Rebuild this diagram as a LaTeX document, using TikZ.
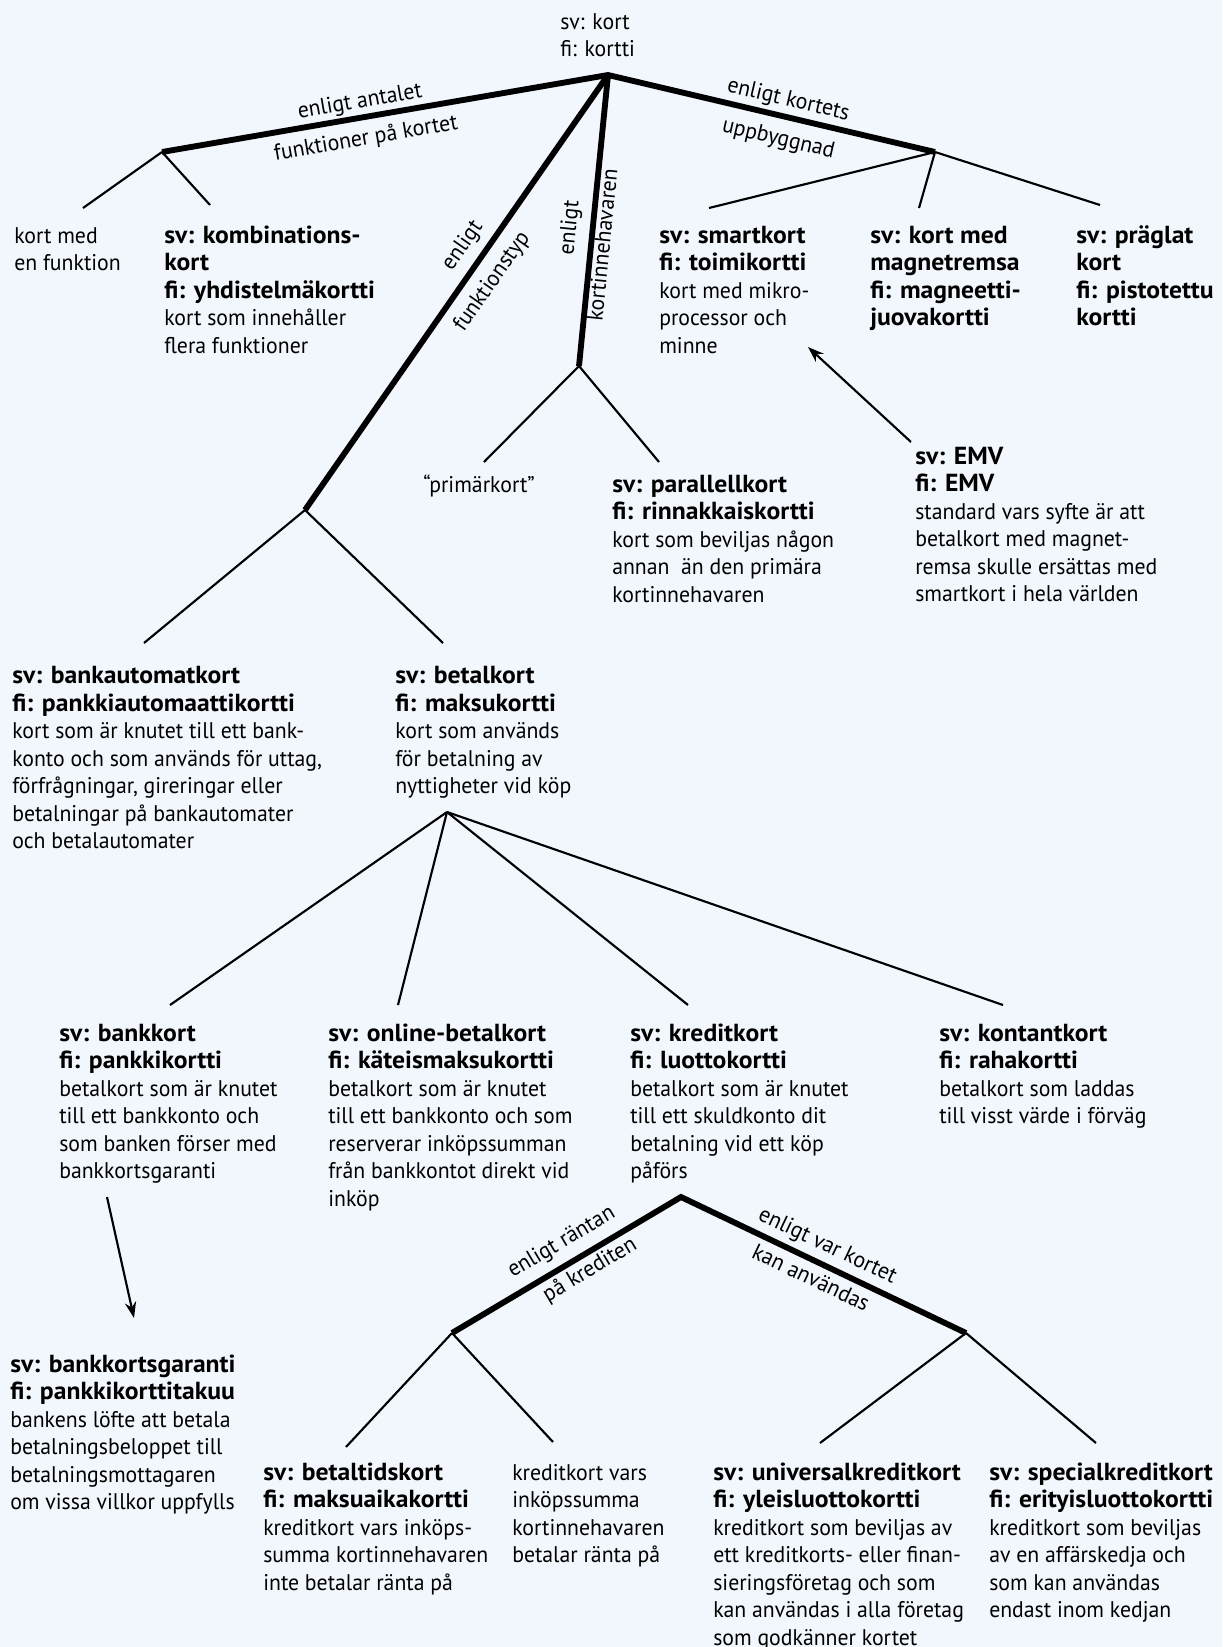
\documentclass[tikz,border=0pt]{standalone}
\usepackage{fontspec}
\setmainfont{PT Sans}[FakeStretch=0.96,BoldFeatures={FakeStretch=1.04}]
\usetikzlibrary{arrows.meta}
\definecolor{bg}{RGB}{242,247,254}
\tikzset{
  term/.style={anchor=north west, align=left, inner sep=0pt, yshift=14.42pt},
  lbl/.style={anchor=base, inner sep=0pt},
  thickline/.style={line width=4.4pt, line cap=butt, line join=miter},
  thinline/.style={line width=1.6pt},
  arr/.style={line width=1.6pt, -{Stealth[length=12pt,width=8.5pt]}},
}
\newcommand\tb[1]{{\fontsize{18.5}{20.6}\selectfont\bfseries #1}}
\begin{document}
\begin{tikzpicture}[x=0.75pt,y=-0.75pt,font=\fontsize{17}{20.6}\selectfont]
\useasboundingbox (0,0) rectangle (1222,1647);
\fill[bg] (0,0) rectangle (1222,1647);

% branch points
\coordinate (R) at (608,75);
\coordinate (A) at (162,152);
\coordinate (B) at (935,152);
\coordinate (C) at (579,366);
\coordinate (D) at (305,510);
\coordinate (E) at (447,812);
\coordinate (F) at (681,1197);
\coordinate (G) at (452,1333);
\coordinate (H) at (966,1333);

% line ends
\coordinate (a1) at (83,208);
\coordinate (a2) at (210,205);
\coordinate (b1) at (709,208);
\coordinate (b2) at (919,208);
\coordinate (b3) at (1100,205);
\coordinate (c1) at (484,462);
\coordinate (c2) at (659,462);
\coordinate (d1) at (144,643);
\coordinate (d2) at (443,643);
\coordinate (e1) at (170,1005);
\coordinate (e2) at (398,1005);
\coordinate (e3) at (688,1005);
\coordinate (e4) at (1003,1005);
\coordinate (g1) at (346,1447);
\coordinate (g2) at (553,1442);
\coordinate (h1) at (820,1443);
\coordinate (h2) at (1096,1443);
\coordinate (k1) at (107,1197);
\coordinate (k2) at (134,1318);
\coordinate (m1) at (911,442);
\coordinate (m2) at (808,347);

% texts (positions = left end of first baseline)
\node[term] (root) at (560,29) {\strut sv: kort\\fi: kortti};
\node[term] (kortmed) at (14,243) {\strut kort med\\en funktion};
\node[term] (kombi) at (164,243) {\strut\tb{sv: kombinations-}\\\tb{kort}\\\tb{fi: yhdistelmäkortti}\\kort som innehåller\\flera funktioner};
\node[term] (smart) at (659,243) {\strut\tb{sv: smartkort}\\\tb{fi: toimikortti}\\kort med mikro-\\processor och\\minne};
\node[term] (magnet) at (870,243) {\strut\tb{sv: kort med}\\\tb{magnetremsa}\\\tb{fi: magneetti-}\\\tb{juovakortti}};
\node[term] (praglat) at (1076,243) {\strut\tb{sv: präglat}\\\tb{kort}\\\tb{fi: pistotettu}\\\tb{kortti}};
\node[term] (primar) at (423,492) {\strut “primärkort”};
\node[term] (parallell) at (612,492) {\strut\tb{sv: parallellkort}\\\tb{fi: rinnakkaiskortti}\\kort som beviljas någon\\annan\ \ än den primära\\kortinnehavaren};
\node[term] (emv) at (915,464) {\strut\tb{sv: EMV}\\\tb{fi: EMV}\\standard vars syfte är att\\betalkort med magnet-\\remsa skulle ersättas med\\smartkort i hela världen};
\node[term] (bankautomat) at (12,683.5) {\strut\tb{sv: bankautomatkort}\\\tb{fi: pankkiautomaattikortti}\\kort som är knutet till ett bank-\\konto och som används för uttag,\\förfrågningar, gireringar eller\\betalningar på bankautomater\\och betalautomater};
\node[term] (betal) at (395,683.5) {\strut\tb{sv: betalkort}\\\tb{fi: maksukortti}\\kort som används\\för betalning av\\nyttigheter vid köp};
\node[term] (bankkort) at (59,1041) {\strut\tb{sv: bankkort}\\\tb{fi: pankkikortti}\\betalkort som är knutet\\till ett bankkonto och\\som banken förser med\\bankkortsgaranti};
\node[term] (online) at (328,1041) {\strut\tb{sv: online-betalkort}\\\tb{fi: käteismaksukortti}\\betalkort som är knutet\\till ett bankkonto och som\\reserverar inköpssumman\\från bankkontot direkt vid\\inköp};
\node[term] (kredit) at (630,1041) {\strut\tb{sv: kreditkort}\\\tb{fi: luottokortti}\\betalkort som är knutet\\till ett skuldkonto dit\\betalning vid ett köp\\påförs};
\node[term] (kontant) at (939,1041) {\strut\tb{sv: kontantkort}\\\tb{fi: rahakortti}\\betalkort som laddas\\till visst värde i förväg};
\node[term] (garanti) at (10,1372) {\strut\tb{sv: bankkortsgaranti}\\\tb{fi: pankkikorttitakuu}\\bankens löfte att betala\\betalningsbeloppet till\\betalningsmottagaren\\om vissa villkor uppfylls};
\node[term] (betaltid) at (263,1480) {\strut\tb{sv: betaltidskort}\\\tb{fi: maksuaikakortti}\\kreditkort vars inköps-\\summa kortinnehavaren\\inte betalar ränta på};
\node[term] (kreditvars) at (512,1480) {\strut kreditkort vars\\inköpssumma\\kortinnehavaren\\betalar ränta på};
\node[term] (universal) at (713,1480) {\strut\tb{sv: universalkreditkort}\\\tb{fi: yleisluottokortti}\\kreditkort som beviljas av\\ett kreditkorts- eller finan-\\sieringsföretag och som\\kan användas i alla företag\\som godkänner kortet};
\node[term] (special) at (989,1480) {\strut\tb{sv: specialkreditkort}\\\tb{fi: erityisluottokortti}\\kreditkort som beviljas\\av en affärskedja och\\som kan användas\\endast inom kedjan};

% thick criterion lines
\draw[thickline] (A) -- (R) -- (B);
\draw[thickline] (C) -- (R);
\draw[thickline] (D) -- (R);
\draw[thickline] (G) -- (F) -- (H);

% criterion labels
\node[lbl, rotate=9.8] (l1) at (361,108) {enligt antalet};
\node[lbl, rotate=9.8] (l2) at (367,145) {funktioner på kortet};
\node[lbl, rotate=-13.25] (l3) at (787,106) {enligt kortets};
\node[lbl, rotate=-13.25] (l4) at (777,145) {uppbyggnad};
\node[lbl, rotate=84.3] (l5) at (576,228.5) {enligt};
\node[lbl, rotate=84.3] (l6) at (610,245.5) {kortinnehavaren};
\node[lbl, rotate=55.1] (l7) at (467.5,249) {enligt};
\node[lbl, rotate=55.1] (l8) at (497,285) {funktionstyp};
\node[lbl, rotate=30.7] (l9) at (564.6,1247.3) {enligt räntan};
\node[lbl, rotate=30.7] (l10) at (593,1275.3) {på krediten};
\node[lbl, rotate=-25.5] (l11) at (824.8,1251.5) {enligt var kortet};
\node[lbl, rotate=-25.5] (l12) at (807.8,1284.5) {kan användas};

% thin branch lines
\draw[thinline] (A) -- (a1);
\draw[thinline] (A) -- (a2);
\draw[thinline] (B) -- (b1);
\draw[thinline] (B) -- (b2);
\draw[thinline] (B) -- (b3);
\draw[thinline] (C) -- (c1);
\draw[thinline] (C) -- (c2);
\draw[thinline] (D) -- (d1);
\draw[thinline] (D) -- (d2);
\draw[thinline] (E) -- (e1);
\draw[thinline] (E) -- (e2);
\draw[thinline] (E) -- (e3);
\draw[thinline] (E) -- (e4);
\draw[thinline] (G) -- (g1);
\draw[thinline] (G) -- (g2);
\draw[thinline] (H) -- (h1);
\draw[thinline] (H) -- (h2);

% arrows
\draw[arr] (k1) -- (k2);
\draw[arr] (m1) -- (m2);
\end{tikzpicture}
\end{document}
